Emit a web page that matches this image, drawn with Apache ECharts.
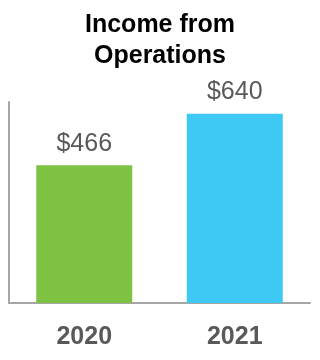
<!DOCTYPE html>
<html><head><meta charset="utf-8">
<script src="https://cdn.jsdelivr.net/npm/echarts@6/dist/echarts.min.js"></script>
<style>html,body{margin:0;padding:0;background:#fff}#c{width:320px;height:360px}</style>
</head><body><div id="c"></div>
<script>
const categories = ['2020', '2021'];
const values = [466, 640];
const colors = ['#7dc242', '#3ec8f4'];
const chart = echarts.init(document.getElementById('c'));
chart.setOption({
  animation: false,
  title: {
    text: 'Income from\nOperations',
    left: 'center', top: 5,
    textStyle: { fontFamily: 'Liberation Sans, Arial', fontSize: 25, fontWeight: 'bold', color: '#000', lineHeight: 31 }
  },
  grid: { left: 9, right: 10, top: 102, bottom: 57 },
  xAxis: {
    type: 'category', data: categories,
    axisLine: { show: true, lineStyle: { color: '#a6a6a6', width: 2 } },
    axisTick: { show: false },
    axisLabel: { margin: 22, color: '#595959', fontFamily: 'Liberation Sans, Arial', fontSize: 25, fontWeight: 'bold' }
  },
  yAxis: {
    type: 'value', min: 0, max: 680,
    axisLine: { show: true, lineStyle: { color: '#a6a6a6', width: 2 } },
    axisTick: { show: false }, axisLabel: { show: false }, splitLine: { show: false }
  },
  series: [{
    type: 'bar', barWidth: 96,
    data: values.map((v, i) => ({ value: v, itemStyle: { color: colors[i] } })),
    label: { show: true, position: 'top', distance: 9, formatter: p => '$' + p.value, color: '#595959', fontFamily: 'Liberation Sans, Arial', fontSize: 25 }
  }]
});
</script></body></html>
